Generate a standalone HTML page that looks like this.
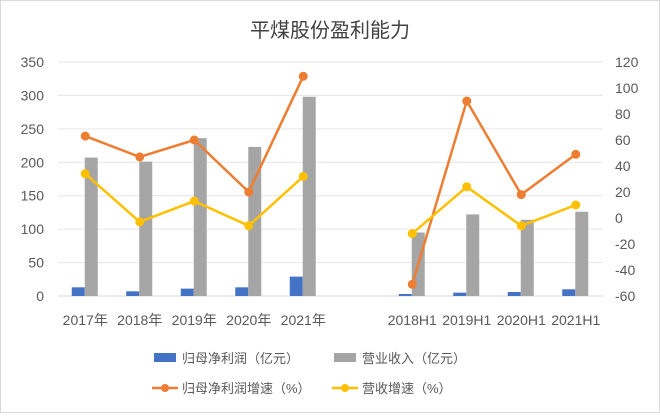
<!DOCTYPE html>
<html><head><meta charset="utf-8"><style>
body{margin:0;background:#fff}
svg text{font-family:"Liberation Sans","Noto Sans CJK SC",sans-serif;fill:#595959}
</style></head><body>
<svg id="c" width="660" height="413" xmlns="http://www.w3.org/2000/svg">
<rect x="0.5" y="0.5" width="659" height="412" fill="#fff" stroke="#d9d9d9"/>
<text x="330" y="37" font-size="20" text-anchor="middle" style="fill:#404040">平煤股份盈利能力</text>
<g id="grid"></g><g id="bars"></g><g id="lines"></g><g id="axes"></g>
<g font-size="13">
<rect x="154" y="353" width="22" height="9" fill="#4472c4"/>
<text x="182" y="363">归母净利润（亿元）</text>
<rect x="334" y="353" width="22" height="9" fill="#a5a5a5"/>
<text x="362" y="363">营业收入（亿元）</text>
<line x1="152" y1="388" x2="178" y2="388" stroke="#ed7d31" stroke-width="2.5"/>
<circle cx="165" cy="388" r="4" fill="#ed7d31"/>
<text x="182" y="393">归母净利润增速（%）</text>
<line x1="332" y1="388" x2="358" y2="388" stroke="#ffc000" stroke-width="2.5"/>
<circle cx="345" cy="388" r="4" fill="#ffc000"/>
<text x="362" y="393">营收增速（%）</text>
</g>
</svg>
<script>
const categories=["2017年","2018年","2019年","2020年","2021年","","2018H1","2019H1","2020H1","2021H1"];
const profit=[13,7,11,13,29,null,3,5,6,10];
const revenue=[207,201,236,223,298,null,95,122,114,126];
const profitGrowth=[63,47,60,20,109,null,-51,90,18,49];
const revenueGrowth=[34,-3,13,-6,32,null,-12,24,-6,10];
const leftTicks=[0,50,100,150,200,250,300,350];
const rightTicks=[-60,-40,-20,0,20,40,60,80,100,120];
const NS="http://www.w3.org/2000/svg";
const X0=58,X1=603,YT=62,YB=296;
const slot=(X1-X0)/categories.length;
const xc=i=>X0+slot*(i+0.5);
const yL=v=>YB-(v-0)/(350-0)*(YB-YT);
const yR=v=>YB-(v+60)/(180)*(YB-YT);
function mk(t,a,p){const e=document.createElementNS(NS,t);for(const k in a)e.setAttribute(k,a[k]);p.appendChild(e);return e;}
const grid=document.getElementById('grid'),axes=document.getElementById('axes'),bars=document.getElementById('bars'),lines=document.getElementById('lines');
leftTicks.forEach(v=>{
 const l=mk('line',{x1:X0,x2:X1,y1:yL(v),y2:yL(v),stroke:v===0?'#d9d9d9':'#e6e6e6','stroke-width':1},grid);
 
 
 const t=mk('text',{x:44,y:yL(v)+5,'font-size':14,'text-anchor':'end'},axes);t.textContent=v;
 
 
});
rightTicks.forEach(v=>{
 const t=mk('text',{x:615,y:yR(v)+5,'font-size':14},axes);t.textContent=v;
 
 
});
categories.forEach((c,i)=>{
 const t=mk('text',{x:xc(i),y:325,'font-size':14,'text-anchor':'middle'},axes);t.textContent=c;
 
 
 if(profit[i]!=null){
  const b=mk('rect',{x:xc(i)-13.5,y:yL(profit[i]),width:13,height:YB-yL(profit[i]),fill:'#4472c4'},bars);
  
  
 }
 if(revenue[i]!=null){
  const b=mk('rect',{x:xc(i)-0.5,y:yL(revenue[i]),width:13,height:YB-yL(revenue[i]),fill:'#a5a5a5'},bars);
  
  
 }
});
function series(arr,color,name){
 [[0,5],[6,10]].forEach(([a,b])=>{
  let d='';for(let i=a;i<b;i++)d+=(i===a?'M':'L')+xc(i)+','+yR(arr[i]);
  const p=mk('path',{d:d,fill:'none',stroke:color,'stroke-width':2.5,'stroke-linejoin':'round'},lines);
  
  
 });
 arr.forEach((v,i)=>{if(v==null)return;
  const c=mk('circle',{cx:xc(i),cy:yR(v),r:4.5,fill:color},lines);
  
  
 });
}
series(profitGrowth,'#ed7d31','profit-growth');
series(revenueGrowth,'#ffc000','revenue-growth');
</script>
</body></html>
